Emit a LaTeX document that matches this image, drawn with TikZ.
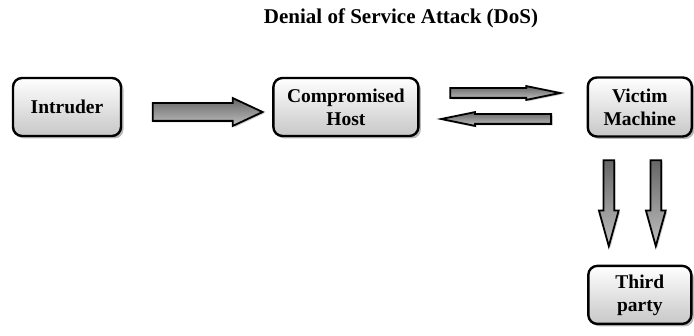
\documentclass[tikz,border=0pt]{standalone}
\usepackage{fontspec}
\setmainfont{Liberation Serif}
\usetikzlibrary{shapes, arrows, positioning, shadows}

\begin{document}
\begin{tikzpicture}[x=1pt, y=1pt,
    box/.style={draw, line width=2.4pt, rectangle, rounded corners=9pt, align=center,
      top color=white, bottom color=black!22, minimum height=58pt,
      font=\fontsize{19.5}{23}\selectfont\bfseries,
      drop shadow={shadow xshift=2.5pt, shadow yshift=-2.5pt, opacity=0.55}},
    fatarrow/.style={single arrow, draw, line width=1.8pt, inner xsep=0pt, anchor=tail,
      top color=black!60, bottom color=black!25, single arrow head indent=0pt,
      drop shadow={shadow xshift=1.5pt, shadow yshift=-1.5pt, opacity=0.4}},
    thinarrow/.style={fatarrow, inner ysep=4pt, single arrow head extend=2pt,
      single arrow tip angle=23, minimum height=110pt},
    downarrow/.style={fatarrow, inner ysep=4.5pt, single arrow head extend=4.5pt,
      single arrow tip angle=31, minimum height=86pt, rotate=-90}]
    \useasboundingbox (0,0) rectangle (694,335);

    \node (title) at (401,317) {\fontsize{21}{25}\selectfont\bfseries Denial of Service Attack (DoS)};

    \node (intruder) [box, minimum width=108pt] at (67,228) {Intruder};
    \node (host) [box, minimum width=145pt, right=150pt of intruder] {Compromised\\Host};
    \node (victim) [box, minimum width=104pt, minimum height=59pt, right=167pt of host] {Victim\\Machine};
    \node (third) [box, minimum width=103pt, below=127pt of victim] {Third\\party};

    \path ([yshift=-5pt]intruder.east) -- node[fatarrow, pos=0.197, inner ysep=8pt,
      single arrow head extend=5pt, single arrow tip angle=50, minimum height=110pt] (a1) {} ([yshift=-5pt]host.west);
    \path ([yshift=14pt]host.east) -- node[thinarrow, pos=0.178] (a2) {} ([yshift=14pt]victim.west);
    \path ([yshift=-12pt]host.east) -- node[thinarrow, pos=0.793, shape border rotate=180] (a3) {} ([yshift=-12pt]victim.west);
    \path ([xshift=-31pt]victim.south) -- node[downarrow, pos=0.17] (a4) {} ([xshift=-31pt]victim.south |- third.north);
    \path ([xshift=16pt]victim.south) -- node[downarrow, pos=0.17] (a5) {} ([xshift=16pt]victim.south |- third.north);
\end{tikzpicture}
\end{document}
